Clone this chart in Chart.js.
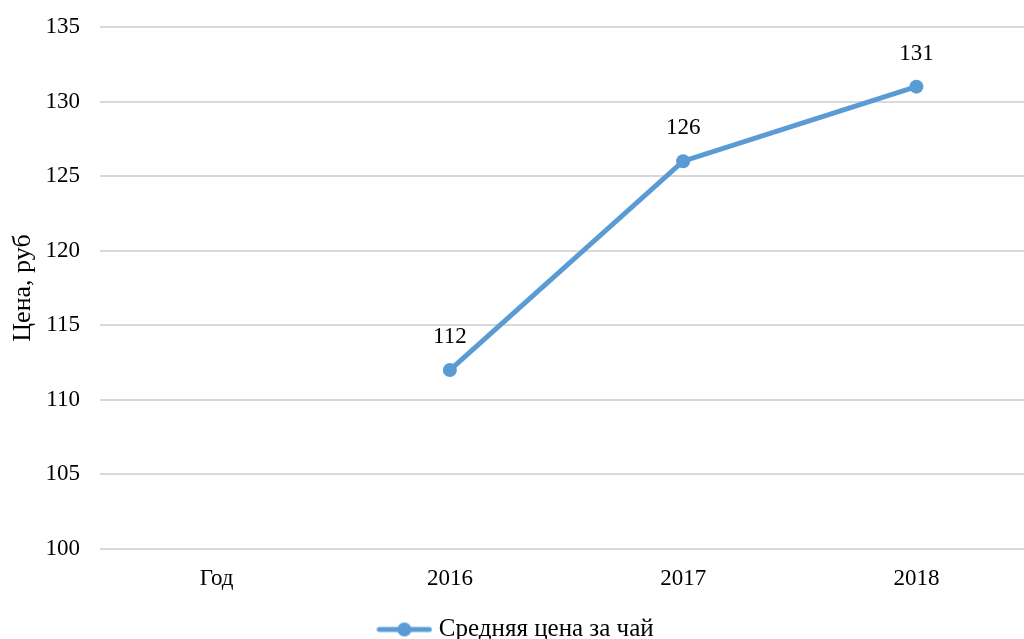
<!DOCTYPE html>
<html>
<head>
<meta charset="utf-8">
<script src="https://cdn.jsdelivr.net/npm/chart.js@4/dist/chart.umd.min.js"></script>
<style>
  html, body { margin: 0; padding: 0; background: #fff; overflow: hidden; }
  #wrap { width: 1040px; height: 652px; }
</style>
</head>
<body>
<div id="wrap"><canvas id="chart"></canvas></div>
<script>
const categories = ["Год", "2016", "2017", "2018"];
const avgPrice = [null, 112, 126, 131];
const seriesName = "Средняя цена за чай";
const axisTitle = "Цена, руб";

const FONT = "'Liberation Serif', 'Times New Roman', serif";
const BLUE = "#5b9bd5";

// legend sample: a short line with the marker in the middle
function legendIcon() {
    const c = document.createElement("canvas");
    c.width = 56;
    c.height = 16;
    const g = c.getContext("2d");
    g.strokeStyle = BLUE;
    g.lineWidth = 5;
    g.lineCap = "round";
    g.beginPath();
    g.moveTo(3, 8);
    g.lineTo(53, 8);
    g.stroke();
    g.fillStyle = BLUE;
    g.beginPath();
    g.arc(28, 8, 7, 0, Math.PI * 2);
    g.fill();
    return c;
}

const valueLabels = {
    id: "valueLabels",
    afterDatasetsDraw(chart) {
        const ctx = chart.ctx;
        const meta = chart.getDatasetMeta(0);
        ctx.save();
        ctx.font = "23px " + FONT;
        ctx.fillStyle = "#000";
        ctx.textAlign = "center";
        ctx.textBaseline = "middle";
        meta.data.forEach((pt, i) => {
            const v = avgPrice[i];
            if (v === null || pt.skip) return;
            ctx.fillText(String(v), pt.x, pt.y - 33);
        });
        ctx.restore();
    }
};

const icon = legendIcon();

new Chart(document.getElementById("chart"), {
    type: "line",
    data: {
        labels: categories,
        datasets: [{
            label: seriesName,
            data: avgPrice,
            borderColor: BLUE,
            backgroundColor: BLUE,
            borderWidth: 5,
            pointRadius: 7,
            pointHoverRadius: 7,
            pointBackgroundColor: BLUE,
            pointBorderWidth: 0,
            pointStyle: "circle",
            tension: 0,
        }],
    },
    options: {
        responsive: true,
        maintainAspectRatio: false,
        animation: false,
        layout: { padding: { top: 27, right: 4, left: 0, bottom: 0 } },
        plugins: {
            tooltip: { enabled: false },
            legend: {
                position: "bottom",
                labels: {
                    font: { family: FONT, size: 25 },
                    color: "#000",
                    usePointStyle: true,
                    pointStyle: icon,
                    pointStyleWidth: 44,
                    padding: 10,
                    generateLabels: () => [{
                        text: seriesName,
                        pointStyle: icon,
                        fillStyle: BLUE,
                        strokeStyle: BLUE,
                        lineWidth: 0,
                        fontColor: "#000",
                    }],
                },
            },
        },
        scales: {
            x: {
                offset: true,
                grid: { display: false },
                border: { display: false },
                ticks: {
                    font: { family: FONT, size: 23 },
                    color: "#000",
                    padding: 8,
                },
                afterFit: (s) => { s.height = 58; },
            },
            y: {
                min: 100,
                max: 135,
                ticks: {
                    stepSize: 5,
                    font: { family: FONT, size: 23 },
                    color: "#000",
                    padding: 20,
                },
                grid: { color: "#d9d9d9", lineWidth: 2, drawTicks: false },
                border: { display: false },
                title: {
                    display: true,
                    text: axisTitle,
                    font: { family: FONT, size: 26 },
                    color: "#000",
                    padding: { top: 8, bottom: 0 },
                },
                afterFit: (s) => {
                    s.width = 100;
                    s.paddingTop = 0;
                    s.paddingBottom = 0;
                },
            },
        },
    },
    plugins: [valueLabels],
});
</script>
</body>
</html>
